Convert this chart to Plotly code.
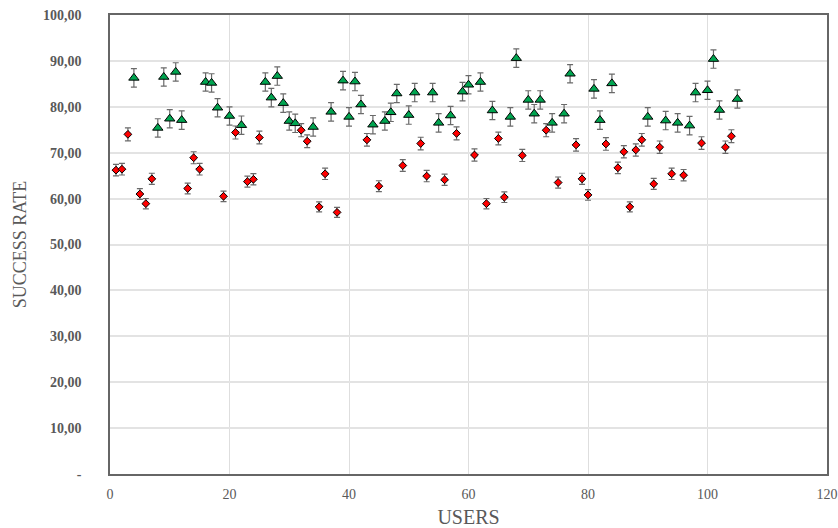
import plotly.graph_objects as go

# Green triangles (group A)
green_x = [4, 8, 9, 10, 11, 12, 16, 17, 18, 20, 22, 26, 27, 28, 29, 30, 31, 34, 37, 39,
           40, 41, 42, 44, 46, 47, 48, 50, 51, 54, 55, 57, 59, 60, 62, 64, 67, 68, 70, 71,
           72, 74, 76, 77, 81, 82, 84, 90, 93, 95, 97, 98, 100, 101, 102, 105]
green_y = [86.3, 75.4, 86.5, 77.4, 87.6, 77.1, 85.4, 85.2, 79.8, 78.0, 76.0, 85.4, 82.0, 86.7, 80.8, 76.9, 76.4, 75.6, 78.9, 85.7,
           77.8, 85.5, 80.5, 76.1, 76.9, 78.8, 82.9, 78.2, 83.1, 83.1, 76.5, 78.1, 83.3, 84.8, 85.4, 79.2, 77.8, 90.6, 81.5, 78.5,
           81.5, 76.5, 78.5, 87.2, 83.9, 77.1, 85.1, 77.8, 77.0, 76.5, 75.9, 83.1, 83.6, 90.4, 79.3, 81.7]
green_err = 2.0

# Red diamonds (group B)
red_x = [1, 2, 3, 5, 6, 7, 13, 14, 15, 19, 21, 23, 24, 25, 32, 33, 35, 36, 38, 43,
         45, 49, 52, 53, 56, 58, 61, 63, 65, 66, 69, 73, 75, 78, 79, 80, 83, 85, 86, 87,
         88, 89, 91, 92, 94, 96, 99, 103, 104]
red_y = [66.2, 66.4, 74.0, 61.0, 58.9, 64.3, 62.2, 68.9, 66.4, 60.5, 74.4, 63.7, 64.2, 73.3, 74.9, 72.5, 58.2, 65.4, 57.0, 72.8,
         62.7, 67.2, 72.0, 64.9, 64.1, 74.2, 69.5, 58.9, 73.1, 60.3, 69.4, 74.9, 63.5, 71.7, 64.3, 60.8, 71.9, 66.7, 70.2, 58.2,
         70.6, 72.8, 63.2, 71.2, 65.4, 65.1, 72.1, 71.2, 73.6]
red_err_pct = 1.9

y_tickvals = [0, 10, 20, 30, 40, 50, 60, 70, 80, 90, 100]
y_ticktext = ["-", "10,00", "20,00", "30,00", "40,00", "50,00", "60,00", "70,00", "80,00", "90,00", "100,00"]
x_tickvals = [0, 20, 40, 60, 80, 100, 120]

FONT = "Liberation Serif, Times New Roman, serif"
TXT = "#595959"

fig = go.Figure()
fig.add_trace(go.Scatter(
    x=green_x, y=green_y, mode="markers",
    marker=dict(symbol="triangle-up", size=9, color="#00A550", line=dict(color="black", width=1)),
    error_y=dict(type="constant", value=green_err, color="#6a6a6a", thickness=1.2, width=3),
    showlegend=False, cliponaxis=False,
))
fig.add_trace(go.Scatter(
    x=red_x, y=red_y, mode="markers",
    marker=dict(symbol="diamond", size=6, color="#FF0000", line=dict(color="black", width=1)),
    error_y=dict(type="percent", value=red_err_pct, color="#6a6a6a", thickness=1.2, width=3),
    showlegend=False, cliponaxis=False,
))

fig.update_layout(
    width=838, height=528,
    margin=dict(l=110, r=11, t=15, b=54),
    paper_bgcolor="white", plot_bgcolor="white",
    font=dict(family=FONT, color=TXT),
)
fig.update_xaxes(
    range=[0, 120], tickvals=x_tickvals, automargin=False,
    showgrid=True, gridcolor="#dedede", gridwidth=1,
    showline=True, linecolor="#666666", linewidth=1.5, mirror=True,
    ticks="", zeroline=False,
    tickfont=dict(family=FONT, size=14, color=TXT),
    ticklabelstandoff=6,
    title=dict(text="USERS", font=dict(family=FONT, size=20, color=TXT), standoff=9),
)
fig.update_yaxes(
    range=[0, 100], tickvals=y_tickvals, ticktext=y_ticktext, automargin=False,
    showgrid=True, gridcolor="#e3e3e3", gridwidth=1.5,
    showline=True, linecolor="#666666", linewidth=1.5, mirror=True,
    ticks="", zeroline=False,
    tickfont=dict(family=FONT, size=14, color=TXT, weight="bold"),
    ticklabelstandoff=24,
    title=dict(text="SUCCESS RATE", font=dict(family=FONT, size=18, color=TXT), standoff=12),
)

fig.write_html(
    "out.html",
    config={"displayModeBar": False},
    post_script="document.body.style.margin='0';document.body.style.overflow='hidden';",
)
